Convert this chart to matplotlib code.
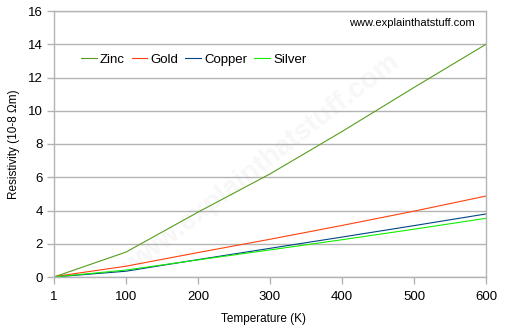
import matplotlib.pyplot as plt
import numpy as np

plt.rcParams['font.family'] = ['Liberation Sans', 'DejaVu Sans']

temperatures = ['1', '100', '200', '300', '400', '500', '600']
zinc = [0.0, 1.5, 3.9, 6.2, 8.75, 11.4, 14.0]
gold = [0.022, 0.65, 1.47, 2.27, 3.10, 3.96, 4.87]
copper = [0.0002, 0.348, 1.046, 1.725, 2.402, 3.090, 3.792]
silver = [0.001, 0.418, 1.029, 1.629, 2.241, 2.875, 3.531]

series = [('Zinc', zinc, '#579d1c'),
          ('Gold', gold, '#ff420e'),
          ('Copper', copper, '#004586'),
          ('Silver', silver, '#11ee00')]

grid_col = '#b3b3b3'

fig = plt.figure(figsize=(5.05, 3.30), dpi=100)
ax = fig.add_axes([54 / 505, 53 / 330, 432 / 505, 266 / 330])

x = np.arange(len(temperatures))
for name, vals, col in series:
    ax.plot(x, vals, color=col, lw=0.8, label=name)

ax.set_xlim(0, len(temperatures) - 1)
ax.set_ylim(0, 16)
ax.set_xticks(x)
ax.set_xticklabels(temperatures)
ax.set_yticks(range(0, 17, 2))
ax.yaxis.grid(True, color=grid_col, lw=1)
ax.set_axisbelow(True)

for s in ax.spines.values():
    s.set_color(grid_col)
    s.set_linewidth(1)

ax.tick_params(axis='both', colors=grid_col, labelcolor='black', labelsize=9.5,
               length=5, width=1)
ax.tick_params(axis='x', pad=5)
ax.tick_params(axis='y', pad=3)

ax.set_xlabel('Temperature (K)', fontsize=8.5, labelpad=8)
ax.xaxis.set_label_coords(0.485, -0.135)
ax.set_ylabel('Resistivity (10-8 \u03a9m)', fontsize=8.5, labelpad=6)

ax.legend(loc='center left', bbox_to_anchor=(0.062, 0.816), ncol=4, frameon=False,
          borderpad=0, borderaxespad=0,
          fontsize=9.5, handlelength=1.2, handletextpad=0.25, columnspacing=0.5)

ax.text(0.975, 0.955, 'www.explainthatstuff.com', transform=ax.transAxes,
        ha='right', va='center', fontsize=8)

# faint watermark
ax.text(0.48, 0.42, 'www.explainthatstuff.com', transform=ax.transAxes,
        ha='center', va='center', fontsize=20, fontweight='bold',
        color='#f7f7f7', rotation=38, zorder=0)

fig.savefig('out.png', dpi=100)
